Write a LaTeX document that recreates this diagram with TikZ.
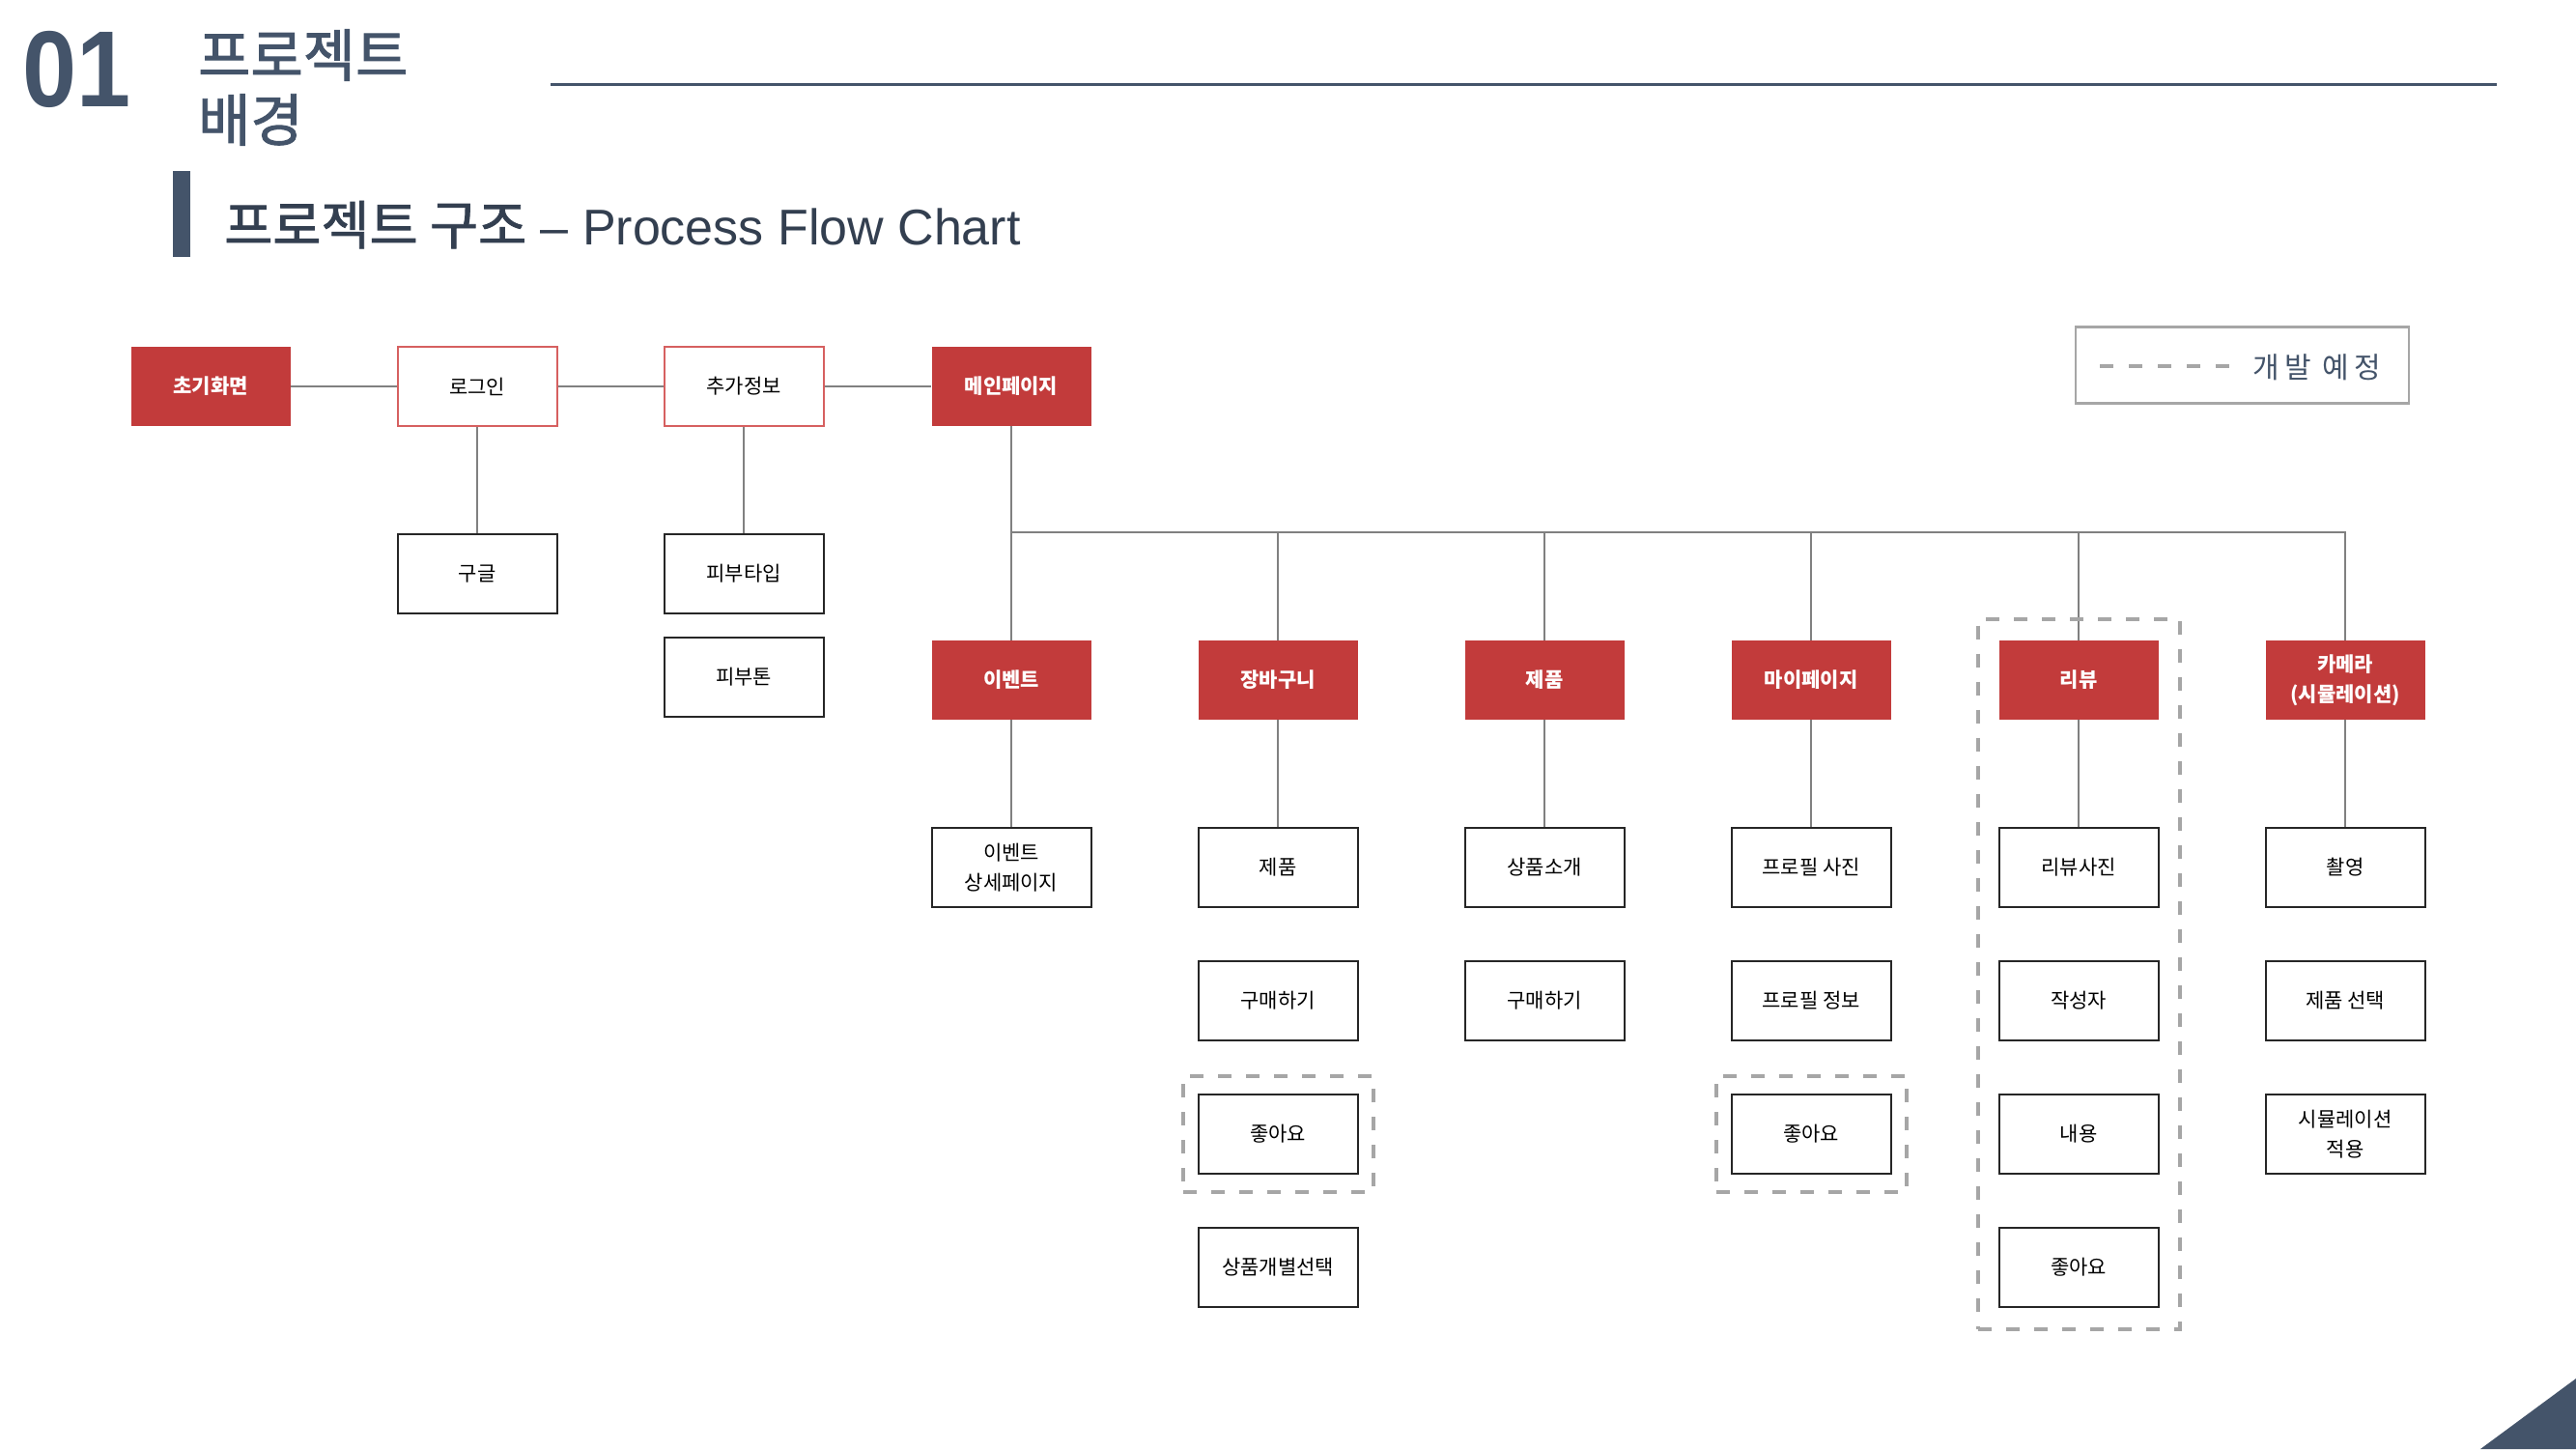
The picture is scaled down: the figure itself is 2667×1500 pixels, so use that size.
\documentclass[tikz,border=0pt]{standalone}
\usepackage{fontspec}
\usepackage{graphicx}
\setmainfont{Noto Sans CJK KR}
\newfontfamily\krfont{Noto Sans CJK KR}
\newfontfamily\krhead[FakeBold=1.5]{Noto Sans CJK KR}
\newfontfamily\legfont[LetterSpace=18]{Noto Sans CJK KR}
\newfontfamily\arialfont{Liberation Sans}
\usetikzlibrary{fit}
\definecolor{redbox}{HTML}{C23B3B}
\definecolor{slate}{HTML}{44546A}
\definecolor{titlec}{HTML}{333F50}
\definecolor{conn}{HTML}{808080}
\definecolor{dashc}{HTML}{A6A6A6}
\definecolor{redline}{HTML}{D66060}
\tikzset{
 basebox/.style={minimum width=165pt, minimum height=82pt, inner sep=0pt, align=center, font=\fontsize{21}{31}\selectfont},
 redb/.style={basebox, fill=redbox, text=white, font=\bfseries\fontsize{21}{31}\selectfont},
 outl/.style={basebox, fill=white, draw=redline, line width=2pt},
 subb/.style={basebox, fill=white, draw=black!85, line width=2pt},
 conline/.style={draw=conn, line width=2.5pt},
 dashbox/.style={draw=dashc, line width=4pt, dash pattern=on 14pt off 15pt},
}
\begin{document}
\begin{tikzpicture}[x=1pt,y=-1pt]
\useasboundingbox (0,0) rectangle (2667,1500);
\fill[white] (0,0) rectangle (2667,1500);

% header
\node[anchor=base west, inner sep=0pt, text=slate, font=\arialfont\bfseries\fontsize{112}{112}\selectfont] (num) at (23,110) {\scalebox{0.9}[1]{01}};
\node[anchor=base west, inner sep=0pt, text=slate, font=\krhead\fontsize{59}{67}\selectfont] (h1) at (205,79) {프로젝트};
\node[anchor=base west, inner sep=0pt, text=slate, font=\krhead\fontsize{59}{67}\selectfont] (h2) at (205,146) {배경};
\coordinate (tl1) at (570,87);
\coordinate (tl2) at (2585,87);
\draw[slate, line width=3pt] (tl1) -- (tl2);
\fill[slate] (179,177) rectangle (197,266);
\node[anchor=base west, inner sep=0pt, text=titlec, font=\fontsize{52}{60}\selectfont] (title) at (232,253) {{\krhead\fontsize{54.5}{60}\selectfont 프로젝트 구조}\arialfont{} – Process Flow Chart};

% top row
\node[redb] (n0) at (218,400) {초기화면};
\node[outl] (n1) at (494,400) {로그인};
\node[outl] (n2) at (770,400) {추가정보};
\node[redb] (n3) at (1047,400) {메인페이지};
\node[subb] (g) at (494,594) {구글};
\node[subb] (st) at (770,594) {피부타입};
\node[subb] (stn) at (770,701) {피부톤};

% categories
\node[redb] (c1) at (1047,704) {이벤트};
\node[redb] (c2) at (1323,704) {장바구니};
\node[redb] (c3) at (1599,704) {제품};
\node[redb] (c4) at (1875,704) {마이페이지};
\node[redb] (c5) at (2152,704) {리뷰};
\node[redb] (c6) at (2428,704) {카메라\\(시뮬레이션)};

% sub items
\node[subb] (s11) at (1047,898) {이벤트\\상세페이지};
\node[subb] (s21) at (1323,898) {제품};
\node[subb] (s22) at (1323,1036) {구매하기};
\node[subb] (s23) at (1323,1174) {좋아요};
\node[subb] (s24) at (1323,1312) {상품개별선택};
\node[subb] (s31) at (1599,898) {상품소개};
\node[subb] (s32) at (1599,1036) {구매하기};
\node[subb] (s41) at (1875,898) {프로필 사진};
\node[subb] (s42) at (1875,1036) {프로필 정보};
\node[subb] (s43) at (1875,1174) {좋아요};
\node[subb] (s51) at (2152,898) {리뷰사진};
\node[subb] (s52) at (2152,1036) {작성자};
\node[subb] (s53) at (2152,1174) {내용};
\node[subb] (s54) at (2152,1312) {좋아요};
\node[subb] (s61) at (2428,898) {촬영};
\node[subb] (s62) at (2428,1036) {제품 선택};
\node[subb] (s63) at (2428,1174) {시뮬레이션\\적용};

% connectors
\draw[conline] (n0) -- (n1);
\draw[conline] (n1) -- (n2);
\draw[conline] (n2) -- (n3);
\draw[conline] (n1) -- (g);
\draw[conline] (n2) -- (st);
\draw[conline] (n3) -- (c1);
\coordinate (bus) at (1047,551);
\draw[conline] (bus) -- (bus -| c6.north) -- (c6.north);
\foreach \c in {c2,c3,c4,c5} {\draw[conline] (bus -| \c.north) -- (\c.north);}
\draw[conline] (c1) -- (s11);
\draw[conline] (c2) -- (s21);
\draw[conline] (c3) -- (s31);
\draw[conline] (c4) -- (s41);
\draw[conline] (c5) -- (s51);
\draw[conline] (c6) -- (s61);

% dashed groups
\node[dashbox, fit=(s23), inner xsep=15pt, inner ysep=18pt] (d1) {};
\node[dashbox, fit=(s43), inner xsep=15pt, inner ysep=18pt] (d2) {};
\node[dashbox, fit=(c5)(s54), inner xsep=21pt, inner ysep=22pt] (d3) {};

% legend
\node[draw=dashc, line width=2.5pt, minimum width=345pt, minimum height=79pt, inner sep=0pt] (leg) at (2321.5,378) {};
\coordinate (la) at (2174,379);
\coordinate (lb) at (2308,379);
\draw[dashc, line width=4pt, dash pattern=on 14pt off 16pt] (la) -- (lb);
\node[anchor=west, inner sep=0pt, text=slate, font=\legfont\fontsize{30}{36}\selectfont] (legt) at (2332,380) {개발 예정};

% corner triangle
\fill[slate] (2568,1500) -- (2667,1427) -- (2667,1500) -- cycle;
\end{tikzpicture}
\end{document}
